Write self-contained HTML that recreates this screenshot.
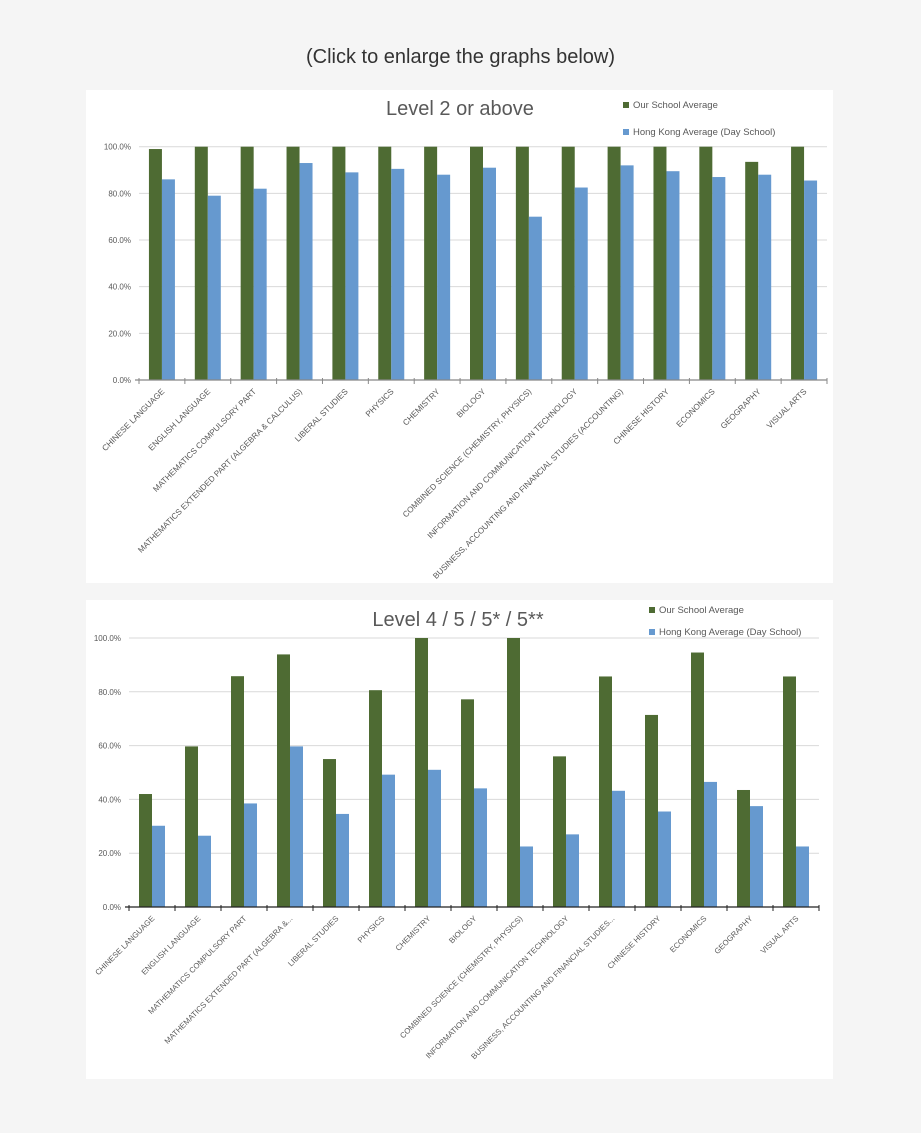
<!DOCTYPE html>
<html><head><meta charset="utf-8"><style>
body{margin:0;width:921px;height:1133px;background:#f5f5f5;font-family:"Liberation Sans",sans-serif;overflow:hidden}
#hdr{position:absolute;top:46px;left:0;width:921px;text-align:center;font-size:20px;color:#333}
svg{position:absolute;left:0;top:0}
</style></head><body>
<div id="hdr">(Click to enlarge the graphs below)</div>
<svg id="s" width="921" height="1133"></svg>
<script>
const categories=["CHINESE LANGUAGE","ENGLISH LANGUAGE","MATHEMATICS COMPULSORY PART","MATHEMATICS EXTENDED PART (ALGEBRA & CALCULUS)","LIBERAL STUDIES","PHYSICS","CHEMISTRY","BIOLOGY","COMBINED SCIENCE (CHEMISTRY, PHYSICS)","INFORMATION AND COMMUNICATION TECHNOLOGY","BUSINESS, ACCOUNTING AND FINANCIAL STUDIES (ACCOUNTING)","CHINESE HISTORY","ECONOMICS","GEOGRAPHY","VISUAL ARTS"];
const categories2=["CHINESE LANGUAGE","ENGLISH LANGUAGE","MATHEMATICS COMPULSORY PART","MATHEMATICS EXTENDED PART (ALGEBRA &...","LIBERAL STUDIES","PHYSICS","CHEMISTRY","BIOLOGY","COMBINED SCIENCE (CHEMISTRY, PHYSICS)","INFORMATION AND COMMUNICATION TECHNOLOGY","BUSINESS, ACCOUNTING AND FINANCIAL STUDIES...","CHINESE HISTORY","ECONOMICS","GEOGRAPHY","VISUAL ARTS"];
const school1=[99,100,100,100,100,100,100,100,100,100,100,100,100,93.5,100];
const hk1=[86,79,82,93,89,90.5,88,91,70,82.5,92,89.5,87,88,85.5];
const school2=[42,59.7,85.8,93.9,55,80.6,100,77.2,100,56,85.7,71.4,94.6,43.5,85.7];
const hk2=[30.2,26.5,38.5,59.7,34.6,49.2,51,44.1,22.5,27,43.2,35.5,46.5,37.5,22.5];
const yTicks=[0,20,40,60,80,100];
const tickLabels=["0.0%","20.0%","40.0%","60.0%","80.0%","100.0%"];
const NS="http://www.w3.org/2000/svg";
const svg=document.getElementById('s');
function mk(t,a,p){const e=document.createElementNS(NS,t);for(const k in a)e.setAttribute(k,a[k]);(p||svg).appendChild(e);return e;}
function chart(o){
  const g=mk('g',{});
  
  
  const bg=mk('rect',{x:o.px,y:o.py,width:o.pw,height:o.ph,fill:'#fff'},g);
  
  
  const n=o.cats.length, cw=(o.x1-o.x0)/n;
  const y=v=>o.y0-(v/100)*(o.y0-o.y100);
  const x=i=>o.x0+i*cw;
  yTicks.forEach((t,i)=>{
    if(t>0){const gl=mk('line',{x1:o.x0,x2:o.x1,y1:y(t),y2:y(t),stroke:'#d9d9d9','stroke-width':1},g);
    
    }
    const tl=mk('text',{x:o.x0-o.lblGap,y:y(t)+3,'text-anchor':'end','font-size':o.yfs,fill:'#595959'},g);
    tl.textContent=tickLabels[i];
    
    
  });
  const bw=o.bw;
  o.cats.forEach((c,i)=>{
    const cx=x(i)+cw/2;
    const b1=mk('rect',{x:cx-bw,y:y(o.s[i]),width:bw,height:y(0)-y(o.s[i]),fill:'#4e6b33'},g);
    
    
    const b2=mk('rect',{x:cx,y:y(o.h[i]),width:bw,height:y(0)-y(o.h[i]),fill:'#6699cf'},g);
    
    
    const tl=mk('text',{x:0,y:0,'text-anchor':'end','font-size':o.xfs,fill:'#595959',transform:`translate(${cx+3},${y(0)+12}) rotate(-45)`},g);
    tl.textContent=c;
    
    
  });
  const ax=mk('line',{x1:o.x0-4,x2:o.x1,y1:y(0),y2:y(0),stroke:o.axc,'stroke-width':1.3},g);
  
  
  for(let i=0;i<=n;i++){const tk=mk('line',{x1:x(i),x2:x(i),y1:y(0)-2,y2:y(0)+4,stroke:o.axc,'stroke-width':1},g);
    
    }
  const ti=mk('text',{x:o.tx,y:o.ty,'text-anchor':'middle','font-size':20,fill:'#595959'},g);
  ti.textContent=o.title;
  
  
  [['Our School Average','#4e6b33'],['Hong Kong Average (Day School)','#6699cf']].forEach((l,i)=>{
    const ly=o.ly+i*o.lgap;
    const sq=mk('rect',{x:o.lx,y:ly-6,width:6,height:6,fill:l[1]},g);
    
    
    const lt=mk('text',{x:o.lx+10,y:ly,'font-size':9.5,fill:'#595959'},g);
    lt.textContent=l[0];
    
    
  });
}
chart({name:'level2-chart',px:86,py:90,pw:747,ph:493,x0:139,x1:827,y0:380,y100:146.7,bw:13,cats:categories,s:school1,h:hk1,
  title:'Level 2 or above',tx:460,ty:115,lx:623,ly:108,lgap:27,yfs:8,xfs:8.2,lblGap:8,axc:'#888'});
chart({name:'level4-chart',px:86,py:600,pw:747,ph:479,x0:129,x1:819,y0:907,y100:638,bw:13,cats:categories2,s:school2,h:hk2,
  title:'Level 4 / 5 / 5* / 5**',tx:458,ty:626,lx:649,ly:613,lgap:22,yfs:8,xfs:7.8,lblGap:8,axc:'#222'});
</script>
</body></html>
